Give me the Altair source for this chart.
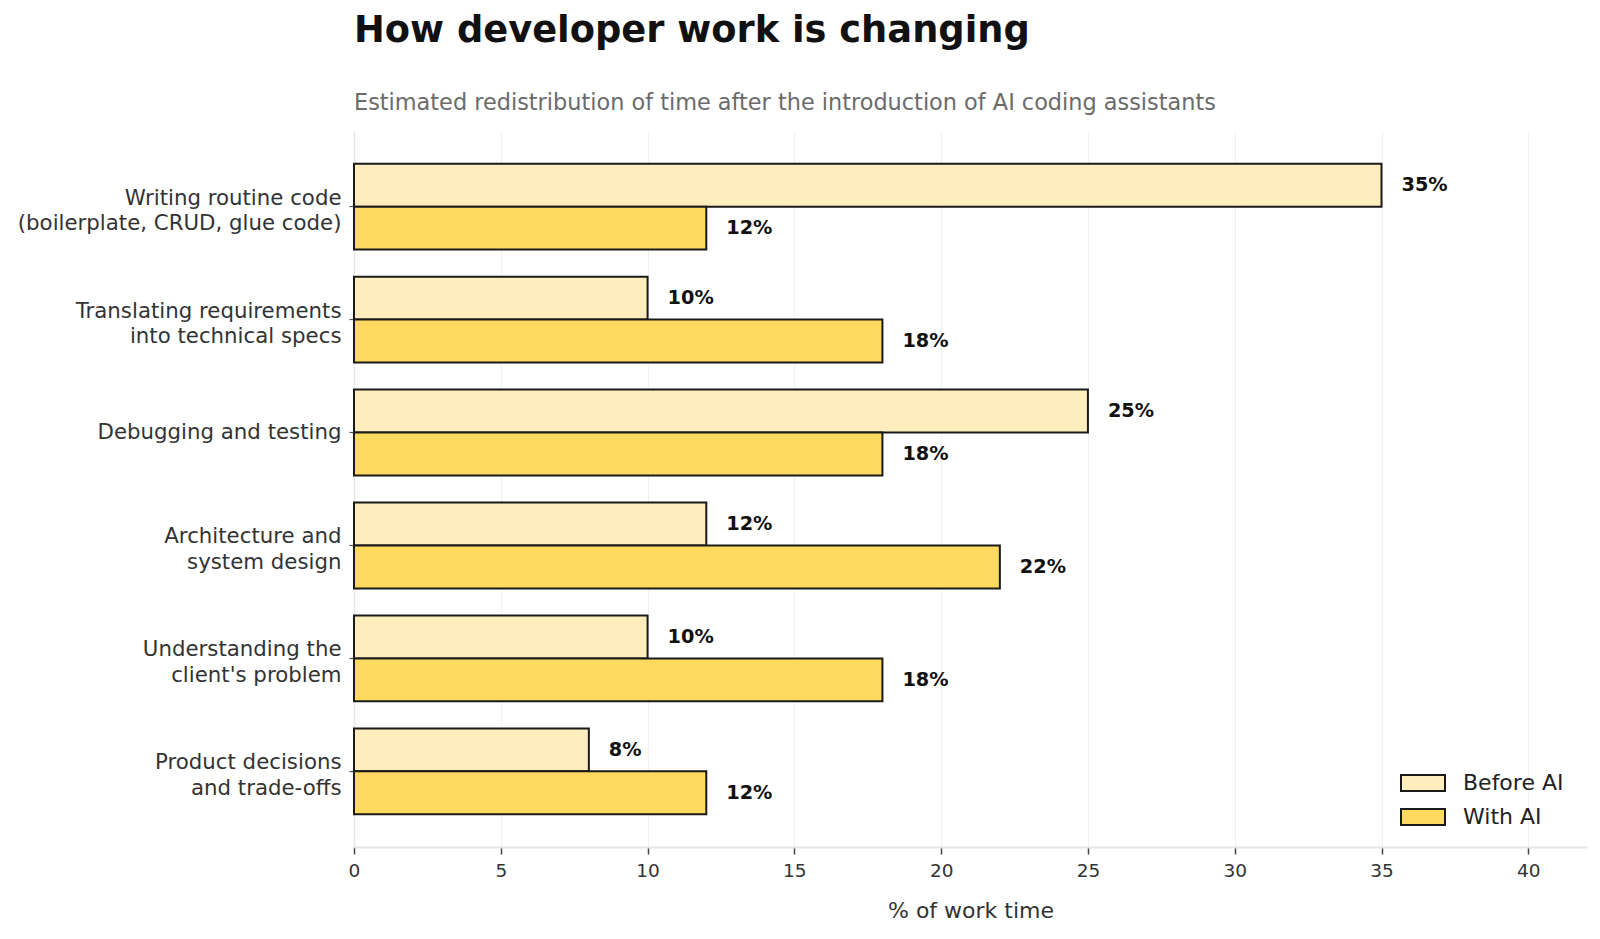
import altair as alt
import pandas as pd

categories = [
    "Writing routine code\n(boilerplate, CRUD, glue code)",
    "Translating requirements\ninto technical specs",
    "Debugging and testing",
    "Architecture and\nsystem design",
    "Understanding the\nclient's problem",
    "Product decisions\nand trade-offs",
]
series = ["Before AI", "With AI"]
before_ai = [35, 10, 25, 12, 10, 8]
with_ai = [12, 18, 18, 22, 18, 12]
colors = ["#FFEDBD", "#FFDA5F"]

rows = []
for c, b, w in zip(categories, before_ai, with_ai):
    rows.append({"task": c, "series": "Before AI", "value": b})
    rows.append({"task": c, "series": "With AI", "value": w})
df = pd.DataFrame(rows)
df["label"] = df["value"].astype(str) + "%"

FONT = "DejaVu Sans"

y_enc = alt.Y(
    "task:N",
    sort=categories,
    scale=alt.Scale(paddingInner=0.24, paddingOuter=0.29),
    axis=alt.Axis(
        title=None,
        labelExpr="split(datum.label, '\\n')",
        labelFontSize=21.3,
        labelLineHeight=25.5,
        labelLimit=500,
        labelColor="#333333",
        labelFont=FONT,
        labelPadding=8,
        labelOffset={"condition": {"test": "indexof(datum.value, '\\n') >= 0", "value": -8}, "value": 0},
        tickSize=5,
        tickColor="#555555",
        tickWidth=1.2,
        domainColor="#e6e6e6",
        domainWidth=1.5,
        grid=False,
    ),
)
yoff = alt.YOffset("series:N", sort=series, scale=alt.Scale(paddingInner=0, paddingOuter=0))

x_enc = alt.X(
    "value:Q",
    scale=alt.Scale(domain=[0, 42], nice=False),
    axis=alt.Axis(
        title="% of work time",
        titleFontSize=22,
        titleFont=FONT,
        titleFontWeight="normal",
        titleColor="#333333",
        titlePadding=21,
        values=[0, 5, 10, 15, 20, 25, 30, 35, 40],
        labelFontSize=18.5,
        labelFont=FONT,
        labelColor="#333333",
        labelPadding=7,
        labelFlush=False,
        tickSize=7,
        tickColor="#444444",
        tickWidth=1.5,
        domainColor="#e6e6e6",
        domainWidth=2,
        grid=True,
        gridColor="#f0f0f0",
        gridWidth=1,
    ),
)

bars = alt.Chart(df).mark_bar(stroke="#1a1a1a", strokeWidth=2).encode(
    y=y_enc,
    yOffset=yoff,
    x=x_enc,
    color=alt.Color(
        "series:N",
        sort=series,
        scale=alt.Scale(domain=series, range=colors),
        legend=alt.Legend(
            title=None,
            orient="none",
            legendX=1058,
            legendY=641,
            labelFontSize=22,
            labelFont=FONT,
            labelColor="#222222",
            symbolType="M-2.75,-1L2.75,-1L2.75,1L-2.75,1Z",
            symbolSize=256,
            symbolStrokeColor="#1a1a1a",
            symbolStrokeWidth=2,
            symbolOpacity=1,
            rowPadding=10,
            labelOffset=29,
            padding=0,
        ),
    ),
)

labels = alt.Chart(df).mark_text(
    align="left", baseline="middle", dx=20, fontSize=19.3, fontWeight="bold", font=FONT, color="#111111"
).encode(
    y=alt.Y("task:N", sort=categories),
    yOffset=yoff,
    x="value:Q",
    text="label:N",
)

chart = (
    alt.layer(bars, labels)
    .properties(
        width=1233,
        height=716,
        background="white",
        autosize=alt.AutoSizeParams(type="none"),
        padding={"left": 354, "top": 131, "right": 13, "bottom": 92},
        title=alt.TitleParams(
            text="How developer work is changing",
            subtitle="Estimated redistribution of time after the introduction of AI coding assistants",
            anchor="start",
            frame="group",
            font=FONT,
            fontSize=36.8,
            fontWeight="bold",
            color="#111111",
            subtitleFont=FONT,
            subtitleFontSize=22.4,
            subtitleColor="#6b6b6b",
            subtitlePadding=42,
            offset=17,
        ),
    )
    .configure_view(strokeWidth=0, stroke="transparent")
)

chart.save("out.html", embed_options={"renderer": "svg", "actions": False})
